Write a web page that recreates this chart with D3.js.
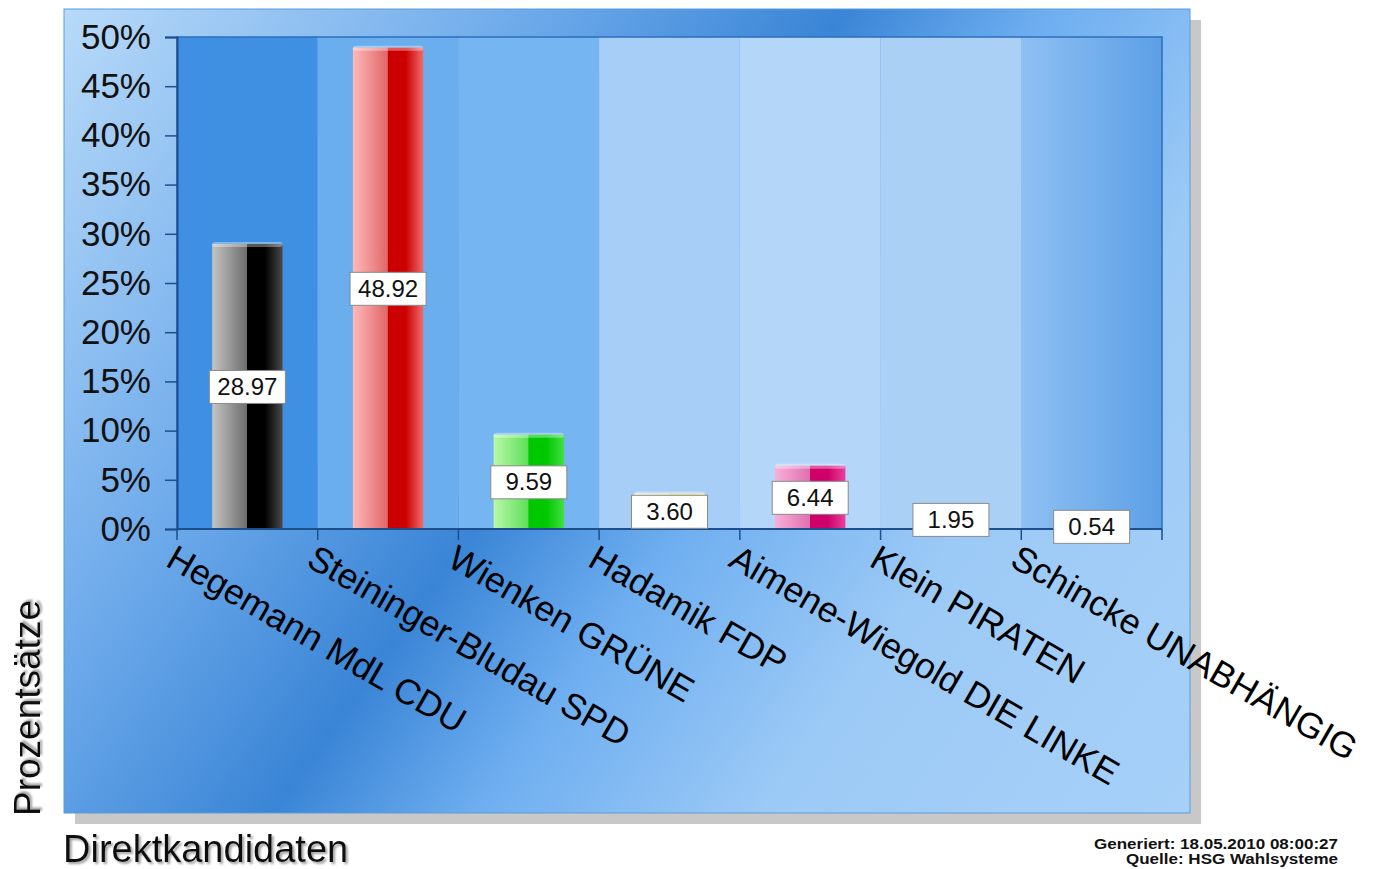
<!DOCTYPE html>
<html><head><meta charset="utf-8">
<script src="https://cdn.jsdelivr.net/npm/d3@7"></script>
<style>body{margin:0;background:#fff}svg{display:block}text{font-family:"Liberation Sans",Arial,sans-serif}</style>
</head><body>
<svg id="c" width="1386" height="869"></svg>
<script>
const categories = ["Hegemann MdL CDU","Steininger-Bludau SPD","Wienken GRÜNE","Hadamik FDP","Aimene-Wiegold DIE LINKE","Klein PIRATEN","Schincke UNABHÄNGIG"];
const values = [28.97, 48.92, 9.59, 3.60, 6.44, 1.95, 0.54];
const yTicks = [0,5,10,15,20,25,30,35,40,45,50];
const barColors = [
  ["#c4c4c4","#6e6e6e","#000000","#4a4a4a"],
  ["#ffb8b8","#e06868","#cc0000","#f06a6a"],
  ["#b8f8a8","#5ee05a","#00c800","#40e040"],
  ["#ffffc8","#f8f0a0","#f0e060","#f8f0a0"],
  ["#f8b0d8","#e070b0","#d0006a","#e8409a"],
  ["#ffd8c0","#f8b890","#f09060","#f8b890"],
  ["#ffffff","#e8e8e8","#d0d0d0","#e8e8e8"]
];
const bandColors = ["#3f8fe2","#6aaeee","#74b5f2","#a6cef7","#b3d6f9","#abd0f6","#7db6ef"];

const svg = d3.select("#c");
const defs = svg.append("defs");

const P = {x:64, y:9, w:1126, h:804};
const plot = {l:177, r:1162, t:37, b:529};

const x = d3.scaleBand().domain(categories).range([plot.l, plot.r]).paddingInner(0).paddingOuter(0);
const y = d3.scaleLinear().domain([0,50]).range([plot.b, plot.t]);

const og = defs.append("linearGradient").attr("id","og").attr("gradientUnits","userSpaceOnUse")
  .attr("x1",P.x).attr("y1",P.y).attr("x2",P.x+P.w).attr("y2",P.y+P.h);
[[0,"#b8daf9"],[0.28,"#6ca9ea"],[0.46,"#3a85d6"],[0.58,"#6eaef0"],[0.75,"#9ccaf6"],[1,"#a6d0f8"]]
  .forEach(s=>og.append("stop").attr("offset",s[0]).attr("stop-color",s[1]));

svg.append("rect").attr("x",P.x+11).attr("y",P.y+11).attr("width",P.w).attr("height",P.h).attr("fill","#c8c8c8");
svg.append("rect").attr("x",P.x).attr("y",P.y).attr("width",P.w).attr("height",P.h)
  .attr("fill","url(#og)").attr("stroke","#5b9bd8").attr("stroke-width",1);

const lastBand = defs.append("linearGradient").attr("id","lb").attr("x1",0).attr("x2",1).attr("y1",0).attr("y2",0);
lastBand.append("stop").attr("offset",0).attr("stop-color","#8fc0f3");
lastBand.append("stop").attr("offset",1).attr("stop-color","#5c9fe6");
svg.append("g").selectAll("rect").data(categories).join("rect")
  .attr("x",d=>x(d)).attr("y",plot.t).attr("width",x.bandwidth()).attr("height",plot.b-plot.t)
  .attr("fill",(d,i)=> i===categories.length-1 ? "url(#lb)" : bandColors[i]);
svg.append("rect").attr("x",plot.l).attr("y",plot.t).attr("width",plot.r-plot.l).attr("height",plot.b-plot.t)
  .attr("fill","none").attr("stroke","#2d6fba").attr("stroke-width",1.5);

categories.forEach((c,i)=>{
  const g = defs.append("linearGradient").attr("id","bg"+i).attr("x1",0).attr("x2",1).attr("y1",0).attr("y2",0);
  const cs = barColors[i];
  g.append("stop").attr("offset",0).attr("stop-color",cs[0]);
  g.append("stop").attr("offset",0.49).attr("stop-color",cs[1]);
  g.append("stop").attr("offset",0.5).attr("stop-color",cs[2]);
  g.append("stop").attr("offset",0.75).attr("stop-color",cs[2]);
  g.append("stop").attr("offset",1).attr("stop-color",cs[3]);
});
const bw = x.bandwidth()*0.5;
const bars = svg.append("g").selectAll("g").data(values).join("g");
bars.append("rect")
  .attr("x",(d,i)=>x(categories[i])+x.bandwidth()/2-bw/2).attr("width",bw)
  .attr("y",d=>y(d)).attr("height",d=>plot.b-y(d))
  .attr("fill",(d,i)=>`url(#bg${i})`);
bars.append("rect")
  .attr("x",(d,i)=>x(categories[i])+x.bandwidth()/2-bw/2).attr("width",bw)
  .attr("y",d=>y(d)-2).attr("height",5).attr("rx",3)
  .attr("fill","#ffffff").attr("opacity",0.35);

const yAxis = d3.axisLeft(y).tickValues(yTicks).tickFormat(d=>d+"%").tickSize(12).tickPadding(14);
const ya = svg.append("g").attr("transform",`translate(${plot.l},0)`).call(yAxis);
ya.select(".domain").attr("stroke","#1d4f8c").attr("stroke-width",2);
ya.selectAll(".tick line").attr("stroke","#1d4f8c").attr("stroke-width",1.5);
ya.selectAll(".tick text").attr("font-size",35).attr("fill","#111").attr("font-family","Liberation Sans, Arial");

const edges = categories.map(c=>x(c)).concat([plot.r]);
svg.append("line").attr("x1",plot.l).attr("x2",plot.r).attr("y1",plot.b).attr("y2",plot.b).attr("stroke","#1d4f8c").attr("stroke-width",2);
svg.append("g").selectAll("line").data(edges).join("line")
  .attr("x1",d=>d).attr("x2",d=>d).attr("y1",plot.b).attr("y2",plot.b+11)
  .attr("stroke","#1d4f8c").attr("stroke-width",1.5);

svg.append("g").selectAll("text").data(categories).join("text")
  .attr("transform",d=>`translate(${x(d)},${plot.b+14}) rotate(30)`)
  .attr("dominant-baseline","hanging")
  .attr("font-size",35.5).attr("fill","#000").text(d=>d);

const vl = svg.append("g").selectAll("g").data(values).join("g")
  .attr("transform",(d,i)=>`translate(${x(categories[i])+x.bandwidth()/2},${(y(d)+plot.b)/2})`);
vl.append("rect").attr("x",-38).attr("y",-16).attr("width",76).attr("height",33)
  .attr("fill","#fff").attr("stroke","#8a8a8a").attr("stroke-width",1);
vl.append("text").attr("text-anchor","middle").attr("dy","0.36em").attr("font-size",24).attr("fill","#111")
  .text(d=>d.toFixed(2));

const sh = defs.append("filter").attr("id","sh").attr("x","-10%").attr("y","-10%").attr("width","130%").attr("height","130%");
sh.append("feDropShadow").attr("dx",2).attr("dy",2).attr("stdDeviation",1).attr("flood-color","#888").attr("flood-opacity",0.8);
svg.append("text").attr("transform","translate(40,708) rotate(-90)").attr("text-anchor","middle")
  .attr("font-size",37).attr("fill","#111").attr("filter","url(#sh)").text("Prozentsätze");
svg.append("text").attr("x",63).attr("y",862).attr("font-size",38).attr("fill","#111").attr("filter","url(#sh)").text("Direktkandidaten");

svg.append("text").attr("x",1338).attr("y",849).attr("text-anchor","end").attr("font-size",14.5).attr("font-weight","bold")
  .attr("textLength",244).attr("lengthAdjust","spacingAndGlyphs").attr("fill","#111").text("Generiert: 18.05.2010 08:00:27");
svg.append("text").attr("x",1338).attr("y",864).attr("text-anchor","end").attr("font-size",14.5).attr("font-weight","bold")
  .attr("textLength",212).attr("lengthAdjust","spacingAndGlyphs").attr("fill","#111").text("Quelle: HSG Wahlsysteme");
</script>
</body></html>
